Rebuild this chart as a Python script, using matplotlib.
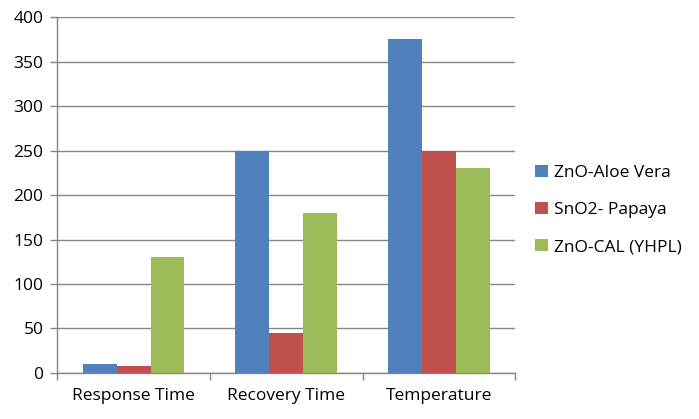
import numpy as np
import matplotlib.pyplot as plt

categories = ["Response Time", "Recovery Time", "Temperature"]
series_names = ["ZnO-Aloe Vera", "SnO2- Papaya", "ZnO-CAL (YHPL)"]
aloe_vera = [10, 250, 375]
papaya = [8, 45, 250]
cal_yhpl = [130, 180, 230]
colors = ["#4F81BD", "#C0504D", "#9BBB59"]

plt.rcParams['font.family'] = ['Open Sans', 'DejaVu Sans']

fig = plt.figure(figsize=(6.99, 4.19), dpi=100)
ax = fig.add_axes([0.082, 0.110, 0.655, 0.849])

# excel style: gap width 150% of bar width
x = np.arange(len(categories))
w = 1 / 4.5
for i, (vals, name) in enumerate(zip([aloe_vera, papaya, cal_yhpl], series_names)):
    ax.bar(x + (i - 1) * w, vals, w, color=colors[i], label=name, zorder=3)

ax.set_xlim(-0.5, 2.5)
ax.set_ylim(0, 400)
ax.set_yticks(range(0, 401, 50))
ax.set_xticks(x)
ax.set_xticklabels(categories)
ax.set_xticks([-0.5, 0.5, 1.5, 2.5], minor=True)
ax.tick_params(axis='x', which='major', length=0, pad=11, labelsize=12.5)
ax.tick_params(axis='x', which='minor', length=5, color='#868686', width=1)
ax.tick_params(axis='y', length=5, color='#868686', width=1, labelsize=12.5, pad=5)
ax.grid(axis='y', color='#868686', linewidth=1, zorder=0)
for s in ['top', 'right']:
    ax.spines[s].set_visible(False)
for s in ['left', 'bottom']:
    ax.spines[s].set_color('#868686')
    ax.spines[s].set_linewidth(1)

ax.legend(loc='center left', bbox_to_anchor=(1.01, 0.458), frameon=False,
          fontsize=12.5, handlelength=0.7, handleheight=0.7, labelspacing=1.2,
          handletextpad=0.4)

fig.savefig("out.png", dpi=100)
